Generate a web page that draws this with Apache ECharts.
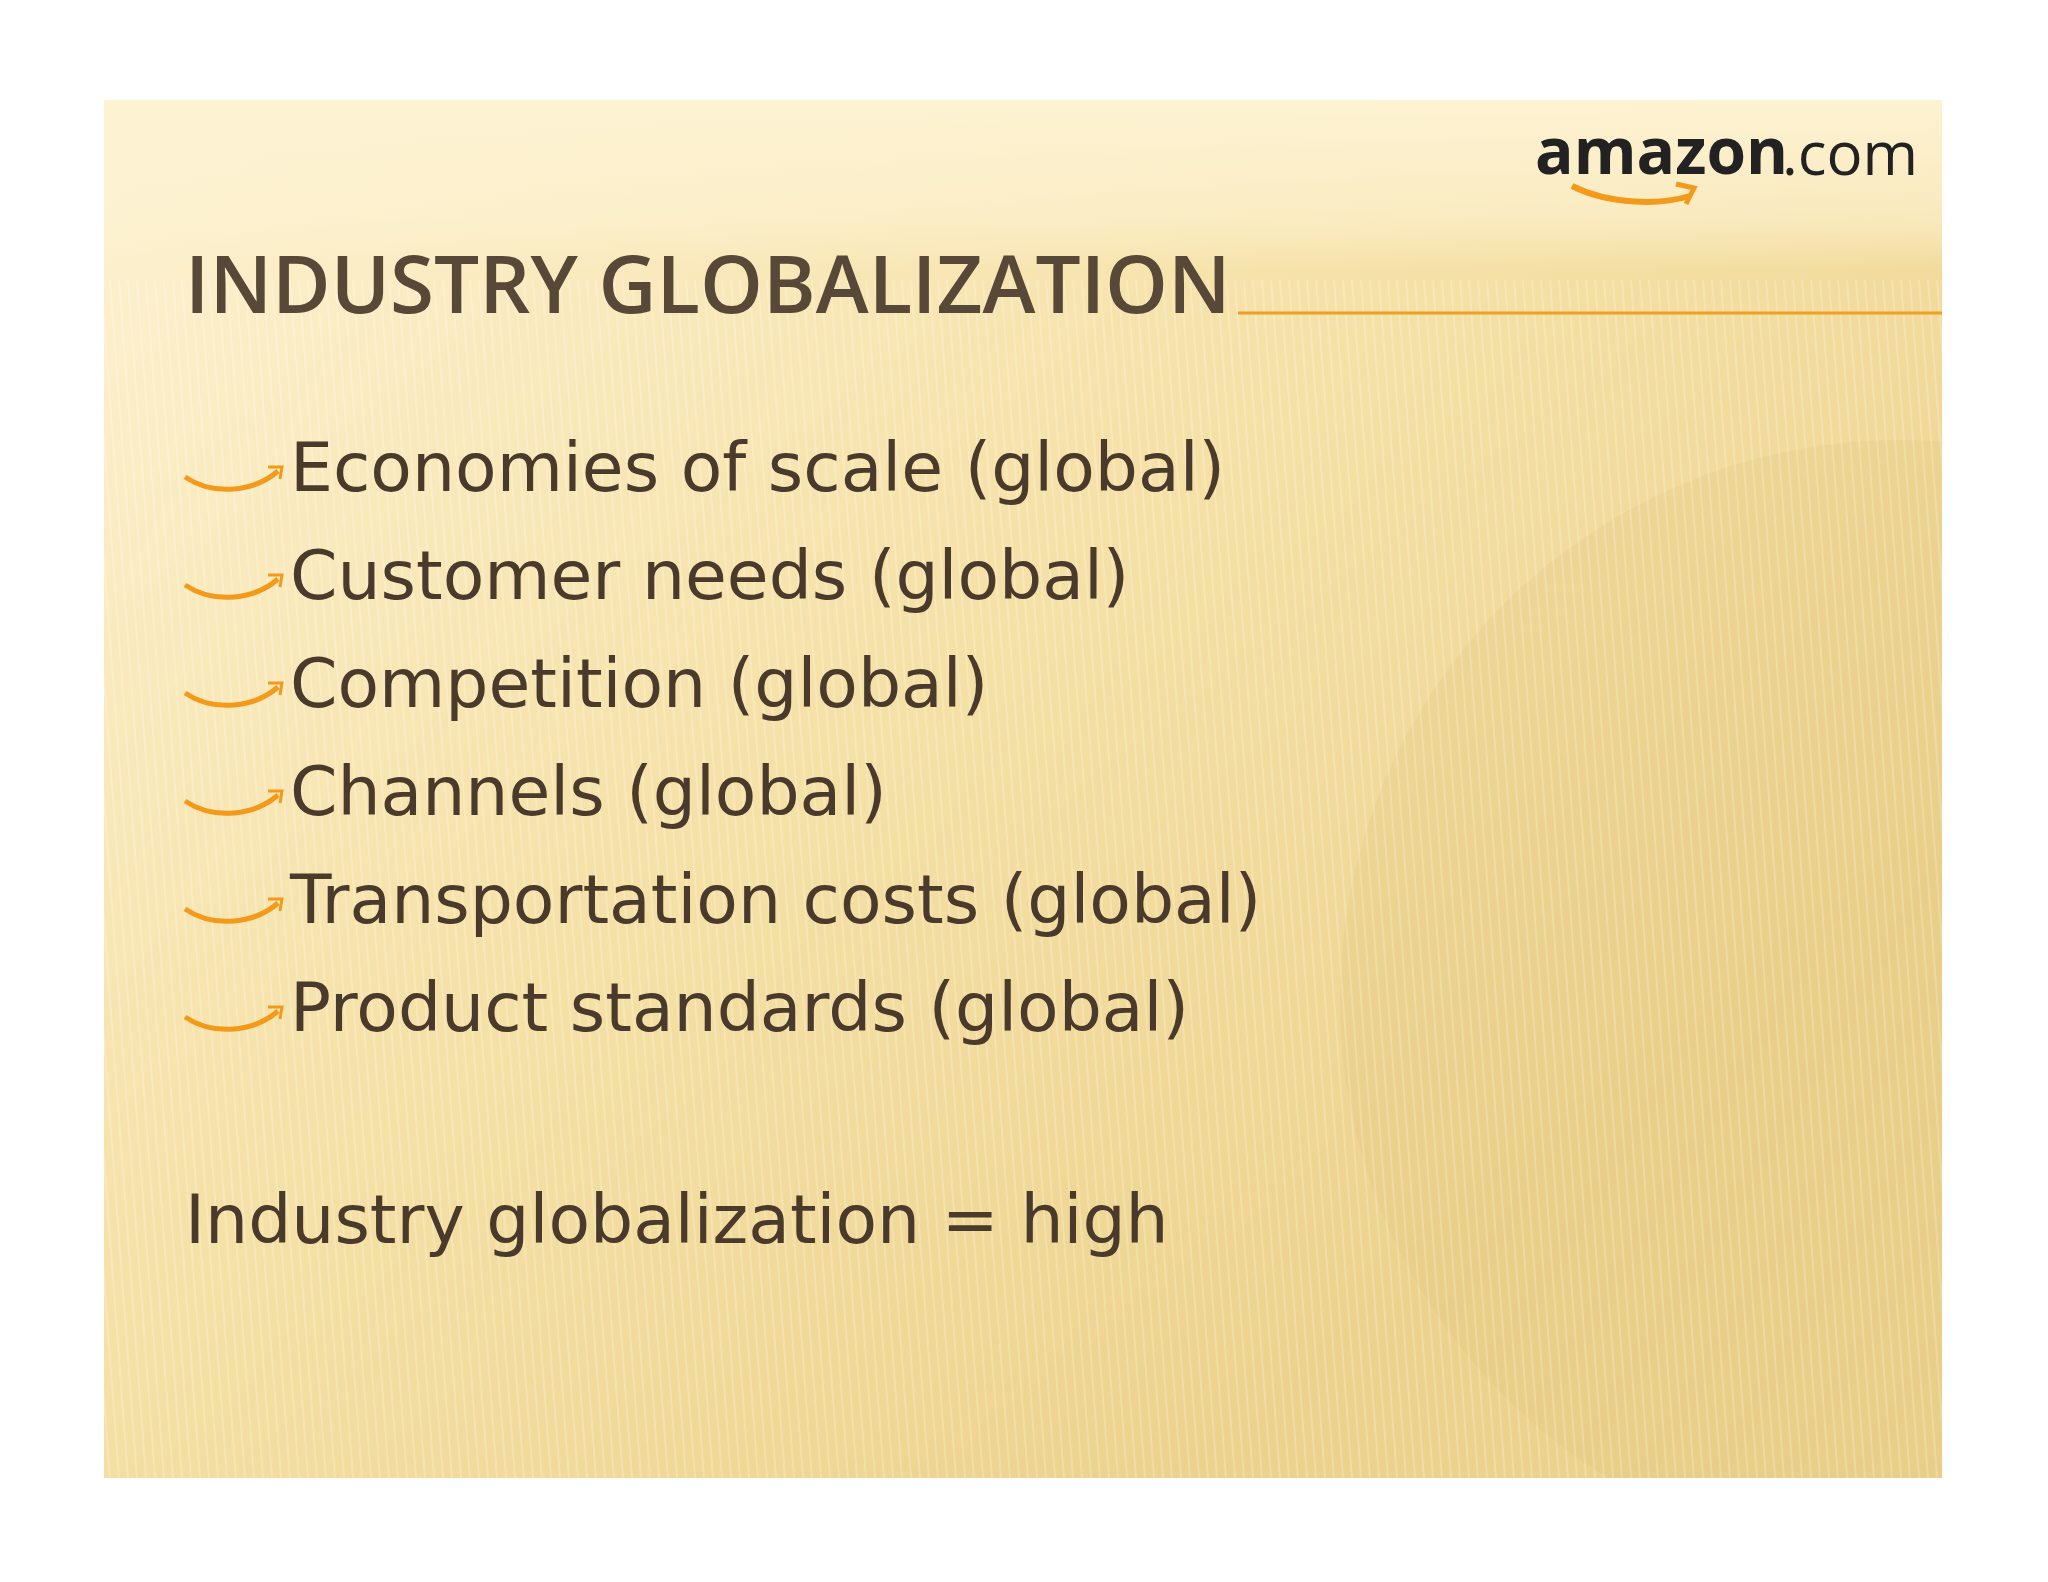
<!DOCTYPE html>
<html><head><meta charset="utf-8">
<script src="https://cdn.jsdelivr.net/npm/echarts@6/dist/echarts.min.js"></script>
<style>html,body{margin:0;padding:0;background:#fff}#c{width:2048px;height:1582px}</style>
</head><body><div id="c"></div>
<script>
const titleText = "INDUSTRY GLOBALIZATION";
const bullets = ["Economies of scale (global)","Customer needs (global)","Competition (global)","Channels (global)","Transportation costs (global)","Product standards (global)"];
const conclusion = "Industry globalization = high";
const logoMain = "amazon", logoTail = ".com";

const chart = echarts.init(document.getElementById('c'));
const L=104,T=100,W=1838,H=1378;
const font='"Open Sans", "DejaVu Sans", sans-serif';
const bfont='"DejaVu Sans", sans-serif';
const els=[];
els.push({type:'rect',shape:{x:L,y:T,width:W,height:H},style:{fill:new echarts.graphic.LinearGradient(0,0,0.6,1,[{offset:0,color:'#fdf2d2'},{offset:0.5,color:'#f6e2a9'},{offset:1,color:'#ecd28c'}])},z:0});
els.push({type:'circle',shape:{cx:1900,cy:1000,r:560},style:{fill:'rgba(215,185,110,0.16)'},z:1});
for(let x=L-300;x<L+W;x+=9){
  els.push({type:'line',shape:{x1:x,y1:T+180,x2:x+90,y2:T+H},style:{stroke:'rgba(255,255,255,0.22)',lineWidth:2},z:2,silent:true});
}
els.push({type:'rect',shape:{x:L,y:T,width:W,height:170},style:{fill:new echarts.graphic.LinearGradient(0,0,0,1,[{offset:0,color:'#fdf2d2'},{offset:0.7,color:'rgba(253,242,210,0.6)'},{offset:1,color:'rgba(253,242,210,0)'}])},z:3});
els.push({type:'rect',shape:{x:L+W,y:0,width:2048-L-W,height:1582},style:{fill:'#fff'},z:4});
els.push({type:'rect',shape:{x:0,y:T+H,width:2048,height:1582-T-H},style:{fill:'#fff'},z:4});
// title
els.push({type:'text',x:185,y:330,style:{text:titleText,font:'600 80px '+font,fill:'#574838',textVerticalAlign:'bottom'},z:5});
els.push({type:'line',shape:{x1:1238,y1:313,x2:1942,y2:313},style:{stroke:'#f0a020',lineWidth:3},z:5});
// logo
els.push({type:'text',x:1535,y:188,style:{text:logoMain,font:'bold 64px '+font,fill:'#222',textVerticalAlign:'bottom'},z:5});
els.push({type:'text',x:1782,y:188,style:{text:logoTail,font:'60px '+font,fill:'#222',textVerticalAlign:'bottom'},z:5});
els.push({type:'bezierCurve',shape:{x1:1572,y1:186,x2:1690,y2:196,cpx1:1610,cpy1:205,cpx2:1660,cpy2:205},style:{stroke:'#f39a1b',lineWidth:6,fill:null},z:5});
els.push({type:'polyline',shape:{points:[[1676,184],[1694,188],[1686,204]]},style:{stroke:'#f39a1b',lineWidth:5,fill:null},z:5});
bullets.forEach((b,i)=>{
  const cy=473+i*108;
  els.push({type:'bezierCurve',shape:{x1:185,y1:cy+4,x2:278,y2:cy-2,cpx1:215,cpy1:cy+24,cpx2:255,cpy2:cy+18},style:{stroke:'#f39a1b',lineWidth:5,fill:null},z:5});
  els.push({type:'polyline',shape:{points:[[268,cy-6],[282,cy-6],[280,cy+6]]},style:{stroke:'#f39a1b',lineWidth:3,fill:null},z:5});
  els.push({type:'text',x:290,y:cy,style:{text:b,font:'68px '+bfont,fill:'#4a3a2b',textVerticalAlign:'middle'},z:5});
});
els.push({type:'text',x:185,y:1225,style:{text:conclusion,font:'68px '+bfont,fill:'#4a3a2b',textVerticalAlign:'middle'},z:5});
chart.setOption({backgroundColor:'#fff',graphic:{elements:els}});
</script></body></html>
